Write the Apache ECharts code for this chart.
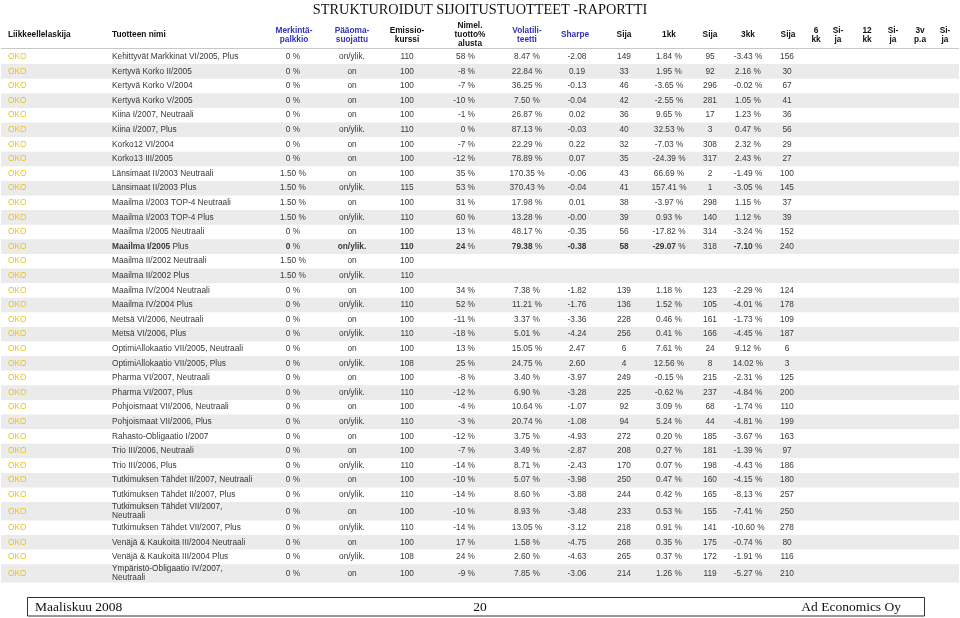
<!DOCTYPE html>
<html>
<head>
<meta charset="utf-8">
<script src="https://cdn.jsdelivr.net/npm/echarts@6/dist/echarts.min.js"></script>
<style>html,body{margin:0;padding:0;background:#fff}#c{width:960px;height:618px}</style>
</head>
<body>
<div id="c"></div>
<script>
// ---------- DATA ----------
const headers = ["Liikkeellelaskija","Tuotteen nimi","Merkintä-\npalkkio","Pääoma-\nsuojattu","Emissio-\nkurssi","Nimel.\ntuotto%\nalusta","Volatili-\nteetti","Sharpe","Sija","1kk","Sija","3kk","Sija","6\nkk","Si-\nja","12\nkk","Si-\nja","3v\np.a","Si-\nja"];
const names = [
"Kehittyvät Markkinat VI/2005, Plus","Kertyvä Korko II/2005","Kertyvä Korko V/2004","Kertyvä Korko V/2005",
"Kiina I/2007, Neutraali","Kiina I/2007, Plus","Korko12 VI/2004","Korko13 III/2005",
"Länsimaat II/2003 Neutraali","Länsimaat II/2003 Plus","Maailma I/2003 TOP-4 Neutraali","Maailma I/2003 TOP-4 Plus",
"Maailma I/2005 Neutraali","Maailma I/2005 Plus","Maailma II/2002 Neutraali","Maailma II/2002 Plus",
"Maailma IV/2004 Neutraali","Maailma IV/2004 Plus","Metsä VI/2006, Neutraali","Metsä VI/2006, Plus",
"OptimiAllokaatio VII/2005, Neutraali","OptimiAllokaatio VII/2005, Plus","Pharma VI/2007, Neutraali","Pharma VI/2007, Plus",
"Pohjoismaat VII/2006, Neutraali","Pohjoismaat VII/2006, Plus","Rahasto-Obligaatio I/2007","Trio III/2006, Neutraali",
"Trio III/2006, Plus","Tutkimuksen Tähdet II/2007, Neutraali","Tutkimuksen Tähdet II/2007, Plus","Tutkimuksen Tähdet VII/2007,\nNeutraali",
"Tutkimuksen Tähdet VII/2007, Plus","Venäjä & Kaukoitä III/2004 Neutraali","Venäjä & Kaukoitä III/2004 Plus","Ympäristö-Obligaatio IV/2007,\nNeutraali"
];
const issuers = names.map(() => "OKO");
const fee = [0,0,0,0,0,0,0,0,1.5,1.5,1.5,1.5,0,0,1.5,1.5,0,0,0,0,0,0,0,0,0,0,0,0,0,0,0,0,0,0,0,0];
const protection = ["on/ylik.","on","on","on","on","on/ylik.","on","on","on","on/ylik.","on","on/ylik.","on","on/ylik.","on","on/ylik.","on","on/ylik.","on","on/ylik.","on","on/ylik.","on","on/ylik.","on","on/ylik.","on","on","on/ylik.","on","on/ylik.","on","on/ylik.","on","on/ylik.","on"];
const issuePrice = [110,100,100,100,100,110,100,100,100,115,100,110,100,110,100,110,100,110,100,110,100,108,100,110,100,110,100,100,110,100,110,100,110,100,108,100];
const nominalReturn = [58,-8,-7,-10,-1,0,-7,-12,35,53,31,60,13,24,null,null,34,52,-11,-18,13,25,-8,-12,-4,-3,-12,-7,-14,-10,-14,-10,-14,17,24,-9];
const volatility = [8.47,22.84,36.25,7.50,26.87,87.13,22.29,78.89,170.35,370.43,17.98,13.28,48.17,79.38,null,null,7.38,11.21,3.37,5.01,15.05,24.75,3.40,6.90,10.64,20.74,3.75,3.49,8.71,5.07,8.60,8.93,13.05,1.58,2.60,7.85];
const sharpe = [-2.08,0.19,-0.13,-0.04,0.02,-0.03,0.22,0.07,-0.06,-0.04,0.01,-0.00,-0.35,-0.38,null,null,-1.82,-1.76,-3.36,-4.24,2.47,2.60,-3.97,-3.28,-1.07,-1.08,-4.93,-2.87,-2.43,-3.98,-3.88,-3.48,-3.12,-4.75,-4.63,-3.06];
const rankSharpe = [149,33,46,42,36,40,32,35,43,41,38,39,56,58,null,null,139,136,228,256,6,4,249,225,92,94,272,208,170,250,244,233,218,268,265,214];
const return1m = [1.84,1.95,-3.65,-2.55,9.65,32.53,-7.03,-24.39,66.69,157.41,-3.97,0.93,-17.82,-29.07,null,null,1.18,1.52,0.46,0.41,7.61,12.56,-0.15,-0.62,3.09,5.24,0.20,0.27,0.07,0.47,0.42,0.53,0.91,0.35,0.37,1.26];
const rank1m = [95,92,296,281,17,3,308,317,2,1,298,140,314,318,null,null,123,105,161,166,24,8,215,237,68,44,185,181,198,160,165,155,141,175,172,119];
const return3m = [-3.43,2.16,-0.02,1.05,1.23,0.47,2.32,2.43,-1.49,-3.05,1.15,1.12,-3.24,-7.10,null,null,-2.29,-4.01,-1.73,-4.45,9.12,14.02,-2.31,-4.84,-1.74,-4.81,-3.67,-1.39,-4.43,-4.15,-8.13,-7.41,-10.60,-0.74,-1.91,-5.27];
const rank3m = [156,30,67,41,36,56,29,27,100,145,37,39,152,240,null,null,124,178,109,187,6,3,125,200,110,199,163,97,186,180,257,250,278,80,116,210];

// ---------- LAYOUT / STYLE ----------
const W = 960, H = 618;
const FONT = '"Liberation Sans", Arial, Helvetica, sans-serif';
const FS = 8.3;
const headerX = [8,112,294,352,407,470,527,575,624,669,710,748,788,816,838,867,893,920,945];
const headerBlue = [2,3,6,7];
const headerY = 35;
const colX = [8,112,293,352,407,475,527,577,624,669,710,748,787];
const colAlign = ['left','left','center','center','center','right','center','center','center','center','center','center','center'];
const tableTop = 49.5, rowH = 14.6, tallRowH = 18.3;
const boldRow = 13;
const TEXT = '#383838', OKO = '#e6c31e', BLUE = '#3232b4', STRIPE = '#ebebeb';

const rowTop = [], rowBottom = [], rowMid = [];
let yy = tableTop;
names.forEach(n => {
  const h = n.indexOf('\n') >= 0 ? tallRowH : rowH;
  rowTop.push(yy); rowBottom.push(yy + h); rowMid.push(yy + h / 2); yy += h;
});

const f2 = v => (Object.is(v, -0) ? '-' : '') + v.toFixed(2);
const pct2 = v => v == null ? '' : f2(v) + ' %';
const int = v => v == null ? '' : String(v);

// rich text helper: bold number part, normal " %" suffix
function boldNum(str) {
  const i = str.indexOf(' %');
  return i >= 0 ? '{b|' + str.slice(0, i) + '}' + str.slice(i) : '{b|' + str + '}';
}

const cells = [];
// header cells
headers.forEach((h, i) => {
  cells.push({ value: [headerX[i], headerY], text: h,
    align: i < 2 ? 'left' : 'center', color: headerBlue.includes(i) ? BLUE : '#111',
    weight: 'bold', lh: 9 });
});
// body cells
names.forEach((n, r) => {
  const vals = [
    issuers[r], n,
    fee[r] === 0 ? '0 %' : fee[r].toFixed(2) + ' %',
    protection[r], String(issuePrice[r]),
    nominalReturn[r] == null ? '' : nominalReturn[r] + ' %',
    pct2(volatility[r]),
    sharpe[r] == null ? '' : f2(sharpe[r]),
    int(rankSharpe[r]), pct2(return1m[r]), int(rank1m[r]), pct2(return3m[r]), int(rank3m[r])
  ];
  vals.forEach((t, c) => {
    if (t === '') return;
    let rich = null;
    if (r === boldRow && c !== 0 && c !== 10 && c !== 12) {
      if (c === 1) rich = '{b|Maailma I/2005} Plus';
      else rich = boldNum(t);
    }
    cells.push({ value: [colX[c], rowMid[r]], text: t, rich: rich,
      align: colAlign[c], color: c === 0 ? OKO : TEXT, weight: 'normal', lh: 8.6 });
  });
});

const stripes = [];
names.forEach((n, r) => { if (r % 2 === 1) stripes.push({ value: [r, rowTop[r], rowBottom[r]] }); });

const chart = echarts.init(document.getElementById('c'), null, { renderer: 'canvas' });
chart.setOption({
  backgroundColor: '#fff',
  animation: false,
  grid: { left: 0, right: 0, top: 0, bottom: 0 },
  xAxis: { type: 'value', min: 0, max: W, show: false },
  yAxis: { type: 'value', min: 0, max: H, inverse: true, show: false },
  series: [
    {
      type: 'custom', silent: true, z: 1,
      data: stripes,
      renderItem: (params, api) => {
        const p0 = api.coord([1, api.value(1)]);
        const p1 = api.coord([959, api.value(2)]);
        return { type: 'rect', shape: { x: p0[0], y: p0[1], width: p1[0] - p0[0], height: p1[1] - p0[1] },
          style: { fill: STRIPE } };
      }
    },
    {
      type: 'custom', silent: true, z: 3,
      data: cells,
      renderItem: (params, api) => {
        const d = cells[params.dataIndex];
        const p = api.coord([api.value(0), api.value(1)]);
        const style = {
          text: d.rich || d.text, fill: d.color,
          fontFamily: FONT, fontSize: FS, fontWeight: d.weight,
          align: d.align, verticalAlign: 'middle',
          textAlign: d.align, textVerticalAlign: 'middle',
          lineHeight: d.lh
        };
        if (d.rich) {
          style.rich = { b: { fontWeight: 'bold', fontFamily: FONT, fontSize: FS, fill: d.color, color: d.color, lineHeight: d.lh } };
        }
        return { type: 'text', x: p[0], y: p[1], style: style };
      }
    }
  ],
  graphic: [
    { type: 'text', x: 480, y: 10, silent: true,
      style: { text: 'STRUKTUROIDUT SIJOITUSTUOTTEET -RAPORTTI', fill: '#111',
        font: '14.3px "Liberation Serif", "Times New Roman", serif', align: 'center', verticalAlign: 'middle', textAlign: 'center', textVerticalAlign: 'middle' } },
    { type: 'line', silent: true, shape: { x1: 1, y1: 48.5, x2: 959, y2: 48.5 }, style: { stroke: '#c8c8c8', lineWidth: 1 } },
    { type: 'rect', silent: true, shape: { x: 27.5, y: 597.5, width: 897, height: 18.5 },
      style: { fill: 'none', stroke: '#333', lineWidth: 1 } },
    { type: 'text', x: 35, y: 607, silent: true,
      style: { text: 'Maaliskuu 2008', fill: '#111', font: '13.5px "Liberation Serif", "Times New Roman", serif', align: 'left', verticalAlign: 'middle', textAlign: 'left', textVerticalAlign: 'middle' } },
    { type: 'text', x: 480, y: 607, silent: true,
      style: { text: '20', fill: '#111', font: '13.5px "Liberation Serif", "Times New Roman", serif', align: 'center', verticalAlign: 'middle', textAlign: 'center', textVerticalAlign: 'middle' } },
    { type: 'text', x: 901, y: 607, silent: true,
      style: { text: 'Ad Economics Oy', fill: '#111', font: '13.5px "Liberation Serif", "Times New Roman", serif', align: 'right', verticalAlign: 'middle', textAlign: 'right', textVerticalAlign: 'middle' } }
  ]
});
</script>
</body>
</html>
